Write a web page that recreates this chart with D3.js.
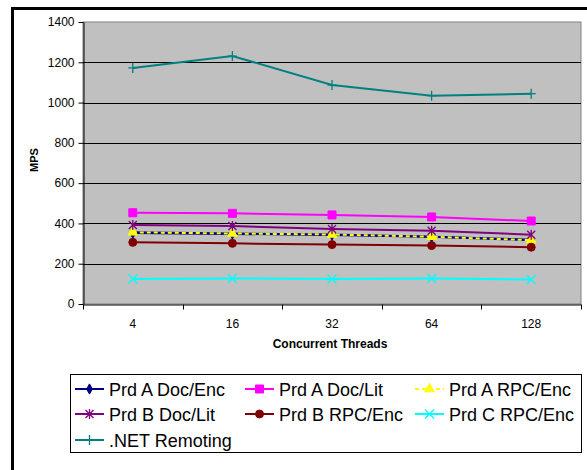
<!DOCTYPE html>
<html>
<head>
<meta charset="utf-8">
<script src="https://cdn.jsdelivr.net/npm/d3@7"></script>
<style>
  body { margin: 0; background: #fff; overflow: hidden; }
  svg { display: block; font-family: "Liberation Sans", Arial, sans-serif; }
</style>
</head>
<body>
<div id="chart"></div>
<script>
// data
const threads = ["4", "16", "32", "64", "128"];
const yTicks = [0, 200, 400, 600, 800, 1000, 1200, 1400];

const prdADocEnc = [352, 348, 343, 334, 319];
const prdADocLit = [453, 450, 442, 432, 412];
const prdARpcEnc = [356, 350, 345, 334, 317];
const prdBDocLit = [392, 387, 372, 364, 344];
const prdBRpcEnc = [306, 301, 295, 290, 282];
const prdCRpcEnc = [124, 127, 124, 127, 122];
const netRemoting = [1172, 1231, 1087, 1034, 1044];

const series = [
  { name: "Prd A Doc/Enc", values: prdADocEnc, color: "#000080", marker: "diamond" },
  { name: "Prd A Doc/Lit", values: prdADocLit, color: "#ff00ff", marker: "square" },
  { name: "Prd A RPC/Enc", values: prdARpcEnc, color: "#ffff00", marker: "triangle", dash: "4,3" },
  { name: "Prd B Doc/Lit", values: prdBDocLit, color: "#800080", marker: "star" },
  { name: "Prd B RPC/Enc", values: prdBRpcEnc, color: "#800000", marker: "circle" },
  { name: "Prd C RPC/Enc", values: prdCRpcEnc, color: "#00ffff", marker: "x" },
  { name: ".NET Remoting", values: netRemoting, color: "#008080", marker: "plus" }
];

const W = 587, H = 470;
const plot = { left: 83, right: 581, top: 22, bottom: 304 };

const svg = d3.select("#chart").append("svg")
    .attr("width", W)
    .attr("height", H);

// outer frame: only the left and top edges are in view
svg.append("path")
    .attr("d", `M12.5,${H}V8.5H${W}`)
    .attr("fill", "none")
    .attr("stroke", "#000")
    .attr("stroke-width", 3);

const x = d3.scaleBand().domain(threads).range([plot.left, plot.right]);
const y = d3.scaleLinear().domain([0, 1400]).range([plot.bottom, plot.top]);

// plot area
svg.append("rect")
    .attr("x", plot.left).attr("y", plot.top)
    .attr("width", plot.right - plot.left)
    .attr("height", plot.bottom - plot.top)
    .attr("fill", "#c0c0c0")
    .attr("stroke", "#808080")
    .attr("stroke-width", 1);

// gridlines
svg.append("g")
  .selectAll("line")
  .data(yTicks.filter(d => d > 0 && d < 1400))
  .join("line")
    .attr("x1", plot.left).attr("x2", plot.right)
    .attr("y1", d => Math.round(y(d)) + 0.5)
    .attr("y2", d => Math.round(y(d)) + 0.5)
    .attr("stroke", "#000")
    .attr("stroke-width", 1);

// axes
const yAxis = svg.append("g")
    .attr("transform", `translate(${plot.left + 0.5},0)`)
    .call(d3.axisLeft(y).tickValues(yTicks).tickFormat(d3.format("d"))
      .tickSize(5).tickPadding(4).tickSizeOuter(0));
const xAxis = svg.append("g")
    .attr("transform", `translate(0,${plot.bottom + 0.5})`)
    .call(d3.axisBottom(x).tickSize(0).tickPadding(15).tickSizeOuter(0));

// x ticks sit on the band edges
xAxis.append("g")
  .selectAll("line")
  .data(d3.range(threads.length + 1))
  .join("line")
    .attr("x1", i => Math.round(plot.left + i * x.bandwidth()) + 0.5)
    .attr("x2", i => Math.round(plot.left + i * x.bandwidth()) + 0.5)
    .attr("y1", 0).attr("y2", 5)
    .attr("stroke", "#000");

[yAxis, xAxis].forEach(a => {
  a.selectAll("text")
    .attr("font-family", "Liberation Sans, Arial, sans-serif")
    .attr("font-size", 12)
    .attr("fill", "#000");
  a.select(".domain").attr("stroke", "#000");
  a.selectAll(".tick line").attr("stroke", "#000");
});

// axis titles
svg.append("text")
    .attr("x", (plot.left + plot.right) / 2 - 2)
    .attr("y", 348)
    .attr("text-anchor", "middle")
    .attr("font-size", 12)
    .attr("font-weight", "bold")
    .text("Concurrent Threads");

svg.append("text")
    .attr("transform", "translate(38,160) rotate(-90)")
    .attr("text-anchor", "middle")
    .attr("font-size", 11)
    .attr("font-weight", "bold")
    .text("MPS");

// marker drawing
function drawMarker(g, type, color) {
  if (type === "diamond") {
    g.append("path").attr("d", d3.symbol(d3.symbolDiamond, 30)()).attr("fill", color).attr("stroke", color);
  } else if (type === "square") {
    g.append("path").attr("d", d3.symbol(d3.symbolSquare, 64)()).attr("fill", color).attr("stroke", color);
  } else if (type === "triangle") {
    g.append("path").attr("d", d3.symbol(d3.symbolTriangle, 40)()).attr("fill", color).attr("stroke", color);
  } else if (type === "circle") {
    g.append("circle").attr("r", 4).attr("fill", color).attr("stroke", color);
  } else if (type === "x") {
    g.append("path").attr("d", "M-4.5,-4.5L4.5,4.5M-4.5,4.5L4.5,-4.5")
      .attr("stroke", color).attr("stroke-width", 1.3).attr("fill", "none");
  } else if (type === "star") {
    g.append("path").attr("d", "M-4,-4L4,4M-4,4L4,-4M0,-5L0,5")
      .attr("stroke", color).attr("stroke-width", 1.3).attr("fill", "none");
  } else if (type === "plus") {
    g.append("path").attr("d", "M-4.5,0L4.5,0M0,-5L0,5")
      .attr("stroke", color).attr("stroke-width", 1.3).attr("fill", "none");
  }
}

const line = d3.line()
    .x((d, i) => x(threads[i]) + x.bandwidth() / 2)
    .y(d => y(d));

series.forEach(s => {
  if (s.dash) {
    // dashed yellow rides on the navy line, so give it the navy underneath gaps
    svg.append("path")
        .attr("d", line(s.values))
        .attr("fill", "none")
        .attr("stroke", "#000080")
        .attr("stroke-width", 2);
  }
  svg.append("path")
      .attr("d", line(s.values))
      .attr("fill", "none")
      .attr("stroke", s.color)
      .attr("stroke-width", 2)
      .attr("stroke-dasharray", s.dash || null);

  svg.append("g")
    .selectAll("g")
    .data(s.values)
    .join("g")
      .attr("transform", (d, i) => `translate(${x(threads[i]) + x.bandwidth() / 2},${y(d)})`)
      .each(function() { drawMarker(d3.select(this), s.marker, s.color); });
});

// legend
const legend = svg.append("g");
legend.append("rect")
    .attr("x", 70.5).attr("y", 374.5)
    .attr("width", 511).attr("height", 78)
    .attr("fill", "#fff")
    .attr("stroke", "#000");

const colX = [75, 245, 415];
const rowY = [389, 414, 440];

series.forEach((s, i) => {
  const cx = colX[i % 3], cy = rowY[Math.floor(i / 3)];
  const item = legend.append("g").attr("transform", `translate(${cx},${cy})`);
  item.append("line")
      .attr("x1", 0).attr("x2", 29)
      .attr("y1", 0).attr("y2", 0)
      .attr("stroke", s.color)
      .attr("stroke-width", 2)
      .attr("stroke-dasharray", s.dash || null);
  const m = item.append("g").attr("transform", "translate(14.5,0)");
  drawMarker(m, s.marker, s.color);
  item.append("text")
      .attr("x", 34)
      .attr("y", 6.5)
      .attr("font-size", 18)
      .text(s.name);
});
</script>
</body>
</html>
